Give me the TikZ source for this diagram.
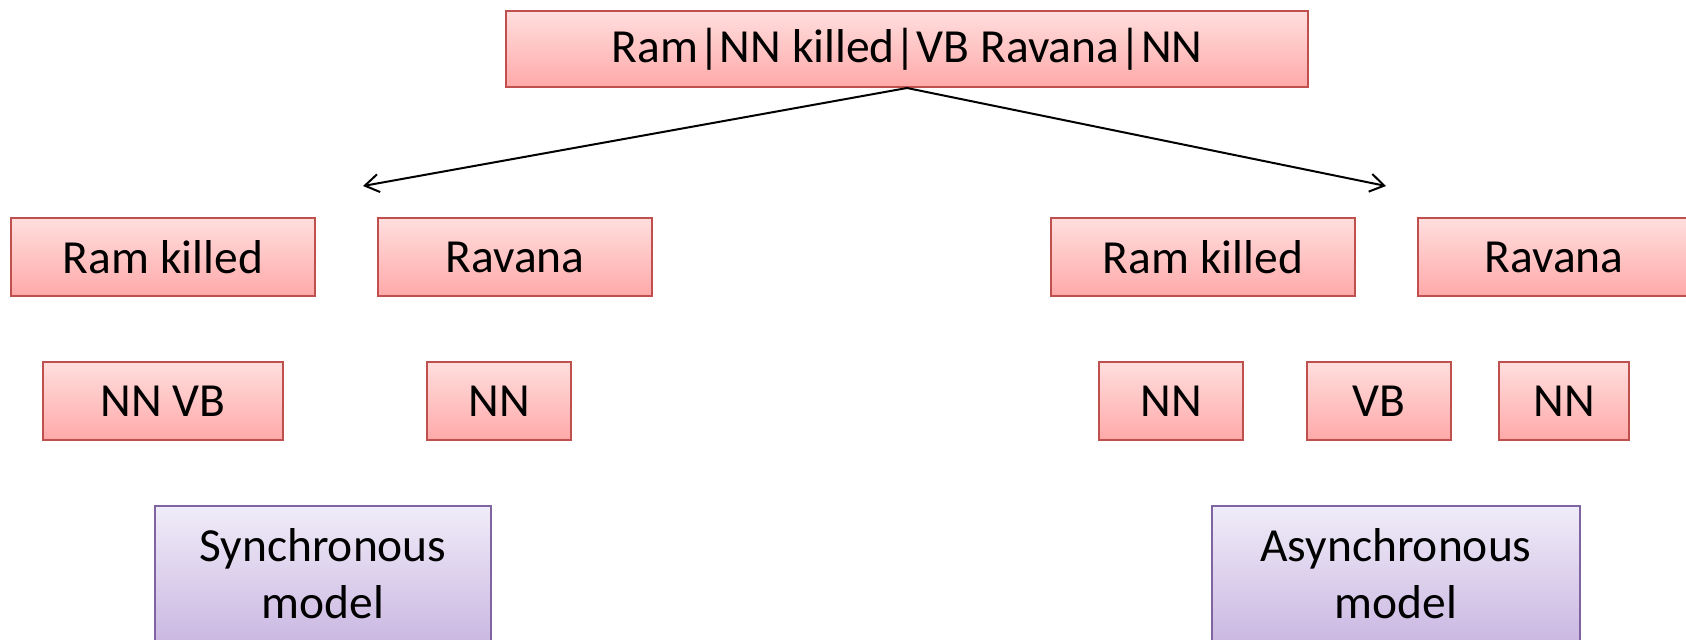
\documentclass[tikz,border=0pt]{standalone}
\usepackage{fontspec}
\setmainfont{Carlito}
\usepackage{xcolor}
\usetikzlibrary{arrows.meta}

\definecolor{tagline}{HTML}{C0504D}
\definecolor{tagtop}{HTML}{FFDEDE}
\definecolor{tagbot}{HTML}{FFA9A9}
\definecolor{modline}{HTML}{8064A2}
\definecolor{modtop}{HTML}{F0ECF8}
\definecolor{modbot}{HTML}{CBB8E2}

\begin{document}
\begin{tikzpicture}[x=0.5pt,y=-0.5pt,
      tag/.style={draw=tagline,line width=1pt,top color=tagtop,bottom color=tagbot,
        minimum height=39pt,inner sep=0pt,font=\fontsize{23.75}{28.5}\selectfont},
      model/.style={draw=modline,line width=1pt,top color=modtop,bottom color=modbot,
        minimum height=68pt,inner sep=0pt,align=center,font=\fontsize{23.75}{28.5}\selectfont},
      split/.style={line width=1pt,-{Straight Barb[length=7pt,width=9pt]}}]
    \useasboundingbox (0,0) rectangle (1686,639);
    \node[tag,minimum height=38pt,minimum width=401pt] (root) at (907,49) {Ram|NN killed|VB Ravana|NN};
    \coordinate (syncend) at (363,186);
    \coordinate (asyncend) at (1386,186);
    \draw[split] (root.south) -- (syncend);
    \draw[split] (root.south) -- (asyncend);
    % synchronous side
    \node[tag,minimum width=152pt] (sphrase1) at (163,257) {Ram killed};
    \node[tag,minimum width=137pt] (sphrase2) at (515,257) {Ravana};
    \node[tag,minimum width=120pt] (stag1) at (163,401) {NN VB};
    \node[tag,minimum width=72pt] (stag2) at (499,401) {NN};
    \node[model,minimum width=168pt] (sync) at (323,574) {Synchronous\\model};
    % asynchronous side
    \node[tag,minimum width=152pt] (aphrase1) at (1203,257) {Ram killed};
    \node[tag,minimum width=136pt] (aphrase2) at (1554,257) {Ravana};
    \node[tag,minimum width=72pt] (atag1) at (1171,401) {NN};
    \node[tag,minimum width=72pt] (atag2) at (1379,401) {VB};
    \node[tag,minimum width=65pt] (atag3) at (1564,401) {NN};
    \node[model,minimum width=184pt] (async) at (1396,574) {Asynchronous\\model};
\end{tikzpicture}
\end{document}
